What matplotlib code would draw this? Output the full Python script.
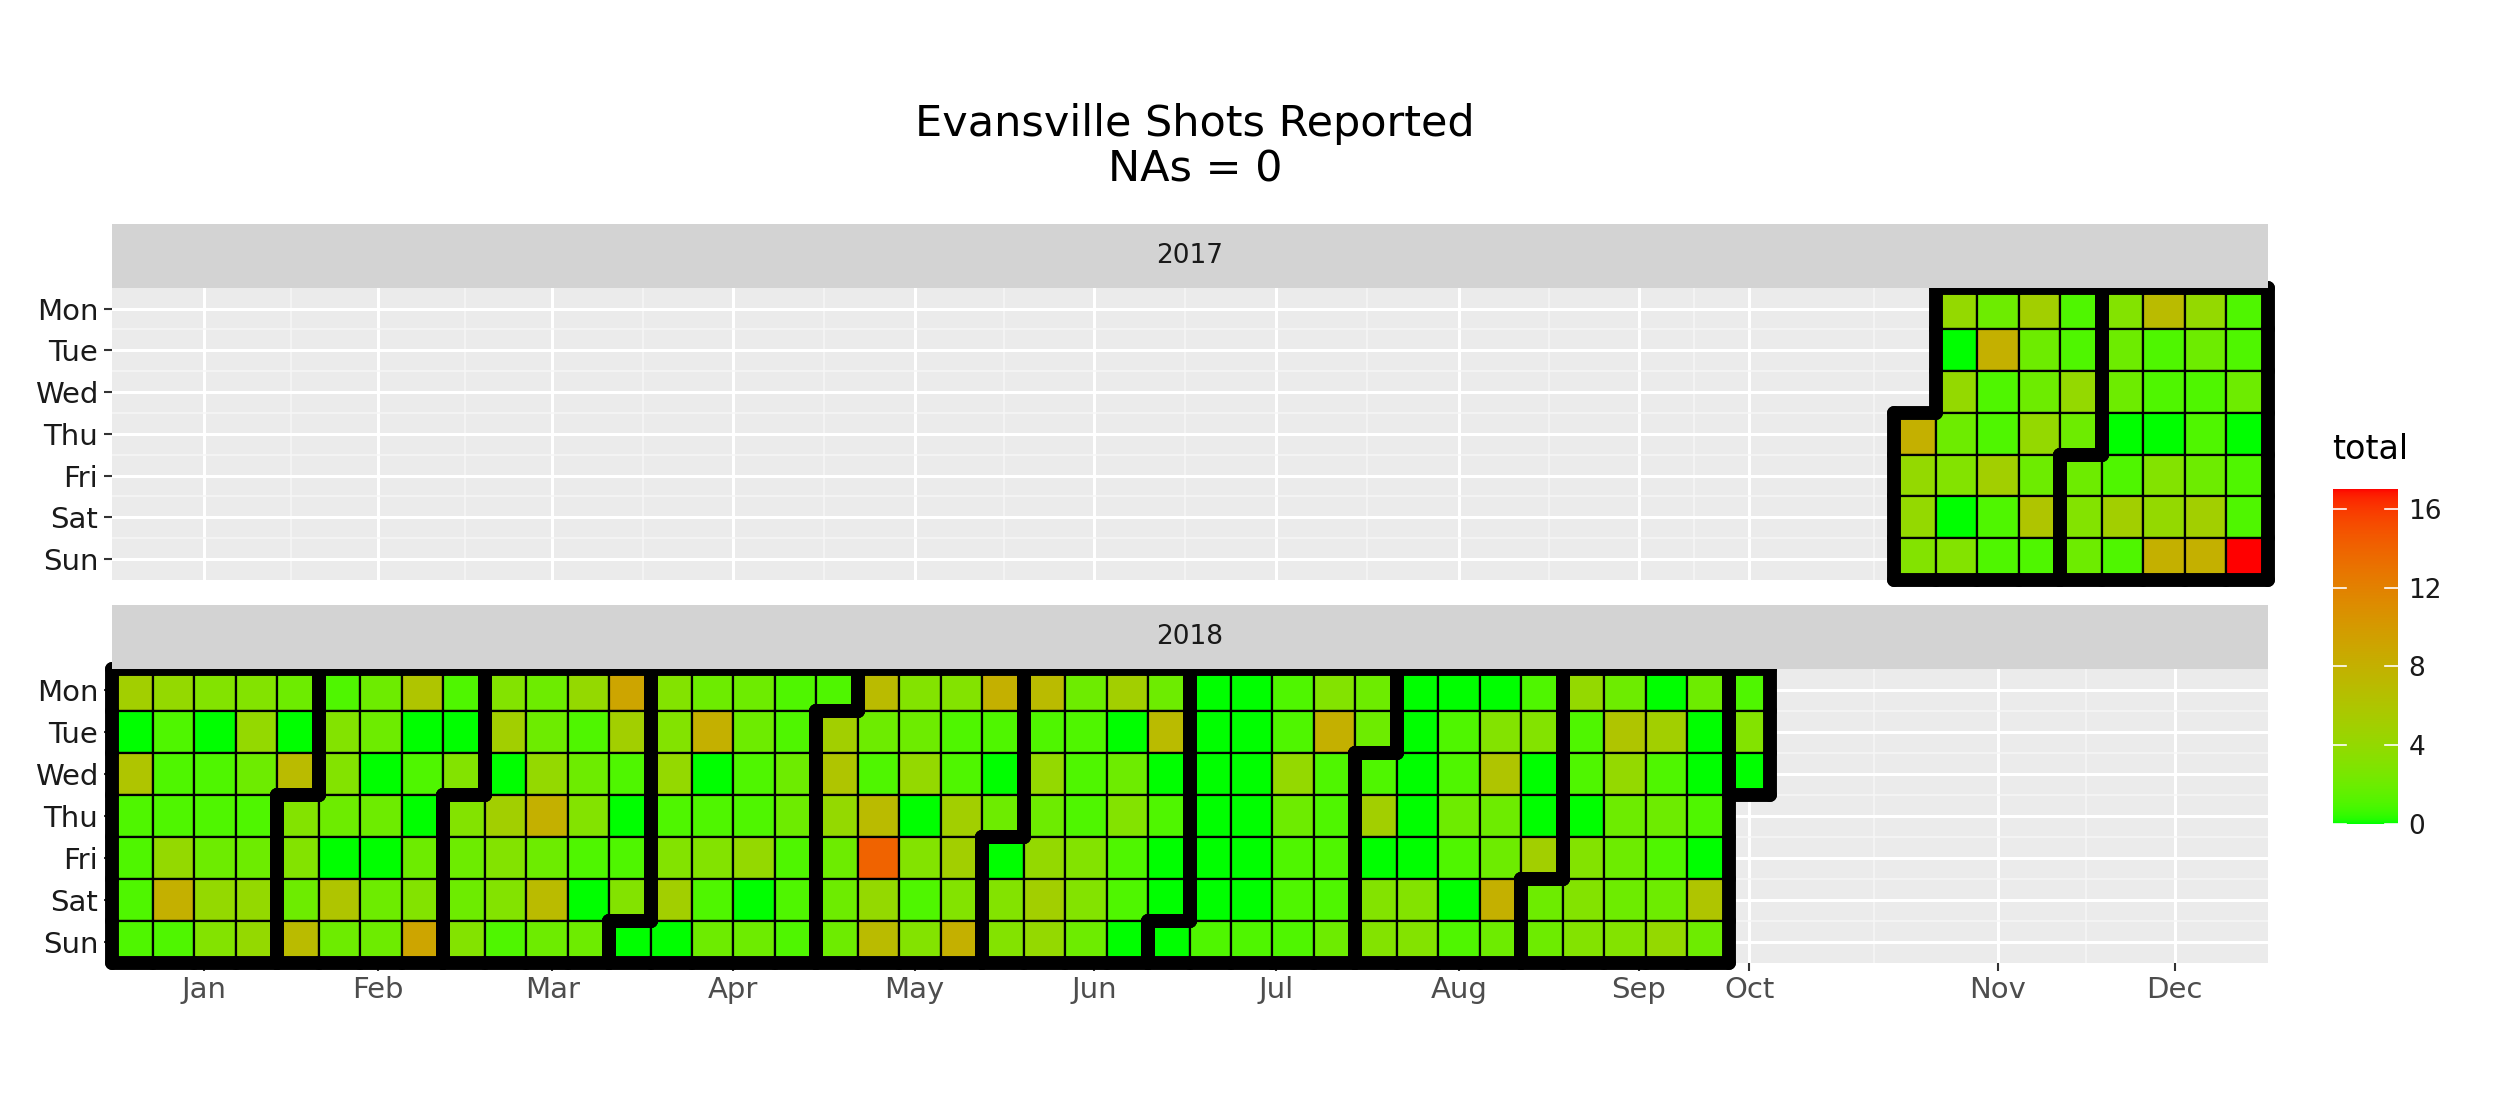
import numpy as np
import matplotlib
matplotlib.use("Agg")
import matplotlib.pyplot as plt
from matplotlib.patches import Rectangle
from matplotlib.colors import ListedColormap, Normalize
import datetime as dt

N = None
days = ["Mon", "Tue", "Wed", "Thu", "Fri", "Sat", "Sun"]
months = ["Jan", "Feb", "Mar", "Apr", "May", "Jun", "Jul", "Aug", "Sep", "Oct", "Nov", "Dec"]

# 2017: weeks starting Oct 30 .. Dec 25 (9 columns), rows Mon..Sun
y2017 = [
    [N, 4, 2, 5, 1, 3, 7, 4, 1],
    [N, 0, 8, 2, 1, 2, 1, 2, 1],
    [N, 4, 1, 2, 4, 2, 1, 1, 2],
    [8, 2, 1, 4, 2, 0, 0, 1, 0],
    [4, 3, 5, 2, 2, 1, 3, 2, 1],
    [4, 0, 1, 6, 3, 5, 4, 5, 1],
    [3, 3, 1, 1, 2, 1, 8, 8, 17],
]
# 2018: weeks starting Jan 1 .. Oct 1 (40 columns), rows Mon..Sun
y2018 = [
    [5,4,3,3,2,1,2,6,1,3,2,4,9,3,2,2,1,1,7,3, 3,8,7,2,5,2,0,0,1,3,2,0,0,0,1,4,2,0,2,1],
    [0,1,0,4,0,3,2,0,0,5,2,1,5,3,8,2,1,5,2,2, 1,1,1,1,0,7,0,0,1,8,2,0,1,3,3,1,6,5,0,3],
    [6,1,1,2,7,3,0,1,3,0,4,2,1,4,0,1,2,6,1,4, 1,0,4,1,2,0,0,0,4,1,1,0,1,6,0,1,4,1,0,0],
    [1,1,1,1,3,2,2,0,3,5,8,3,0,1,1,1,2,4,7,0, 5,2,2,1,3,1,0,0,2,1,5,0,2,2,0,0,2,2,1,N],
    [1,4,2,2,3,0,0,2,2,3,2,1,1,3,3,4,1,2,14,3, 5,0,4,3,1,0,0,0,1,1,0,0,1,2,5,3,2,1,0,N],
    [1,8,4,4,2,6,2,3,2,3,7,0,3,5,1,0,1,2,4,1, 3,3,5,3,1,0,0,0,1,1,3,3,0,8,2,3,2,2,6,N],
    [1,1,3,4,7,2,2,9,3,1,2,2,0,0,2,2,1,2,7,3, 8,3,4,2,0,0,1,1,1,2,3,3,1,2,2,3,3,4,2,N],
]
years = [(2017, y2017, dt.date(2017, 10, 30)), (2018, y2018, dt.date(2018, 1, 1))]

# ggplot-like Lab gradient green -> red
def srgb2lab(c):
    c = np.asarray(c, float)
    l = np.where(c <= 0.04045, c / 12.92, ((c + 0.055) / 1.055) ** 2.4)
    M = np.array([[0.4124, 0.3576, 0.1805], [0.2126, 0.7152, 0.0722], [0.0193, 0.1192, 0.9505]])
    xyz = M @ l / np.array([0.95047, 1.0, 1.08883])
    f = np.where(xyz > 0.008856, np.cbrt(xyz), 7.787 * xyz + 16 / 116)
    return np.array([116 * f[1] - 16, 500 * (f[0] - f[1]), 200 * (f[1] - f[2])])

def lab2srgb(lab):
    L, a, b = lab
    fy = (L + 16) / 116; fx = fy + a / 500; fz = fy - b / 200
    f = np.array([fx, fy, fz])
    xyz = np.where(f ** 3 > 0.008856, f ** 3, (f - 16 / 116) / 7.787) * np.array([0.95047, 1.0, 1.08883])
    Mi = np.array([[3.2406, -1.5372, -0.4986], [-0.9689, 1.8758, 0.0415], [0.0557, -0.2040, 1.0570]])
    l = np.clip(Mi @ xyz, 0, 1)
    return np.clip(np.where(l <= 0.0031308, 12.92 * l, 1.055 * l ** (1 / 2.4) - 0.055), 0, 1)

lo, hi = srgb2lab([0, 1, 0]), srgb2lab([1, 0, 0])
cmap = ListedColormap([lab2srgb(lo + (hi - lo) * t) for t in np.linspace(0, 1, 256)])
vmax = max(v for yr in (y2017, y2018) for r in yr for v in r if v is not None)
norm = Normalize(0, vmax)

cells = {}
for year, grid, start in years:
    for d in range(7):
        for c, v in enumerate(grid[d]):
            if v is None:
                continue
            date = start + dt.timedelta(days=7 * c + d)
            wk = int(date.strftime("%W"))
            cells[(year, wk, d)] = (v, date.month)

mw = {}
for (year, wk, d), (v, m) in cells.items():
    mw.setdefault(m, []).append(wk)
tickpos = [np.mean(mw[m]) for m in sorted(mw)]
ticklab = [months[m - 1] for m in sorted(mw)]

fig = plt.figure(figsize=(25, 11.11), dpi=100)
fig.text(0.478, 0.868, "Evansville Shots Reported\nNAs = 0", ha="center", va="center", fontsize=31, linespacing=1.1)

panels = {2017: (0.478, 0.741), 2018: (0.133, 0.398)}
x0, x1 = 0.0446, 0.907
for year, (yb, yt) in panels.items():
    ax = fig.add_axes([x0, yb, x1 - x0, yt - yb])
    sax = fig.add_axes([x0, yt, x1 - x0, 0.057])
    sax.set_facecolor("#D3D3D3"); sax.set_xticks([]); sax.set_yticks([])
    for s in sax.spines.values(): s.set_visible(False)
    sax.text(0.5, 0.5, str(year), ha="center", va="center", fontsize=19, color="#1A1A1A", transform=sax.transAxes)
    ax.set_facecolor("#EBEBEB")
    ax.set_xlim(0.5, 52.5); ax.set_ylim(7.5, 0.5)
    ax.set_xticks(tickpos); ax.set_xticklabels(ticklab)
    minor = [(a + b) / 2 for a, b in zip(tickpos[:-1], tickpos[1:])]
    ax.set_xticks(minor, minor=True)
    ax.set_yticks(range(1, 8)); ax.set_yticklabels(days)
    ax.set_yticks(np.arange(1.5, 7.5, 1), minor=True)
    ax.grid(True, which="major", color="white", lw=2.2)
    ax.grid(True, which="minor", color="#F6F6F6", lw=1.1)
    ax.tick_params(which="major", color="#333333", length=6, width=1.5, labelcolor="#4D4D4D")
    ax.tick_params(which="minor", length=0)
    ax.tick_params(axis="y", labelcolor="#1A1A1A", labelsize=21)
    ax.tick_params(axis="x", labelsize=21)
    if year == 2017:
        ax.tick_params(axis="x", labelbottom=False, length=0)
    for s in ax.spines.values(): s.set_visible(False)
    ax.set_axisbelow(True)
    mine = {k: v for k, v in cells.items() if k[0] == year}
    for (yr, wk, d), (v, m) in mine.items():
        ax.add_patch(Rectangle((wk - 0.5, d + 0.5), 1, 1, facecolor=cmap(norm(v)), edgecolor="black", lw=1.6, zorder=2))
    segs = []
    for (yr, wk, d), (v, m) in mine.items():
        y = d + 1
        for dw, dd, seg in [(-1, 0, ((wk - 0.5, y - 0.5), (wk - 0.5, y + 0.5))),
                            (1, 0, ((wk + 0.5, y - 0.5), (wk + 0.5, y + 0.5))),
                            (0, -1, ((wk - 0.5, y - 0.5), (wk + 0.5, y - 0.5))),
                            (0, 1, ((wk - 0.5, y + 0.5), (wk + 0.5, y + 0.5)))]:
            nb = mine.get((yr, wk + dw, d + dd))
            if nb is None or nb[1] != m:
                segs.append(seg)
    for (a, b) in segs:
        ax.plot([a[0], b[0]], [a[1], b[1]], color="black", lw=10, solid_capstyle="round", zorder=3, clip_on=False)

cax = fig.add_axes([0.933, 0.258, 0.026, 0.302])
grad = np.linspace(0, vmax, 256).reshape(-1, 1)
cax.imshow(grad, aspect="auto", cmap=cmap, norm=norm, origin="lower", extent=[0, 1, 0, vmax])
cax.set_xticks([])
cax.yaxis.tick_right()
cax.set_yticks([0, 4, 8, 12, 16])
cax.tick_params(axis="y", labelsize=19, length=0, pad=8, labelcolor="#1A1A1A")
for t in [0, 4, 8, 12, 16]:
    cax.plot([0, 0.2], [t, t], color="white", lw=1.2)
    cax.plot([0.8, 1], [t, t], color="white", lw=1.2)
cax.set_xlim(0, 1); cax.set_ylim(0, vmax)
for s in cax.spines.values(): s.set_visible(False)
fig.text(0.933, 0.595, "total", fontsize=24, ha="left", va="center")

fig.savefig("out.png", dpi=100)
